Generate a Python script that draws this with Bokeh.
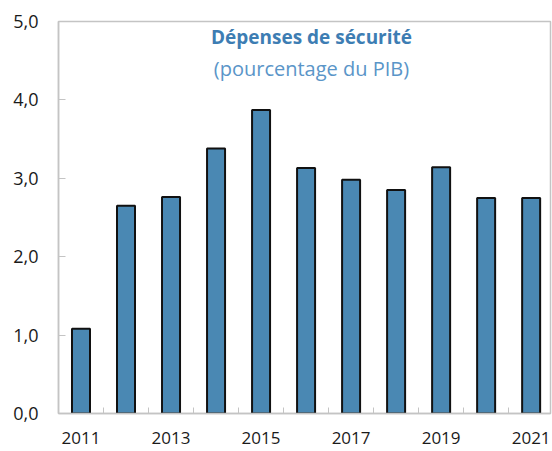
from bokeh.plotting import figure
from bokeh.models import FixedTicker, Label, ColumnDataSource, Range1d
from bokeh.embed import file_html
from bokeh.resources import INLINE

# ---- data ----
years = [2011, 2012, 2013, 2014, 2015, 2016, 2017, 2018, 2019, 2020, 2021]
values = [1.08, 2.65, 2.76, 3.38, 3.87, 3.13, 2.98, 2.85, 3.14, 2.75, 2.75]
x_tick_years = [2011, 2013, 2015, 2017, 2019, 2021]
y_ticks = [0, 1, 2, 3, 4, 5]
y_tick_labels = ["0,0", "1,0", "2,0", "3,0", "4,0", "5,0"]
title_text = "Dépenses de sécurité"
subtitle_text = "(pourcentage du PIB)"

FONT = "Open Sans"
AXIS_GREY = "#c4c4c4"

source = ColumnDataSource(data=dict(year=years, value=values))

p = figure(
    frame_width=492, frame_height=392,
    min_border_left=58, min_border_right=2, min_border_top=21, min_border_bottom=36,
    x_range=Range1d(2010.5, 2021.43), y_range=Range1d(0, 5),
    output_backend="svg", toolbar_location=None,
)
p.background_fill_color = "white"
p.border_fill_color = "white"
p.outline_line_color = AXIS_GREY
p.outline_line_width = 1.5
p.xgrid.grid_line_color = None
p.ygrid.grid_line_color = None

p.vbar(x="year", top="value", width=0.4, source=source,
       fill_color="#4a88b3", line_color="#111111", line_width=2)

# x axis
p.xaxis.ticker = FixedTicker(ticks=x_tick_years,
                             minor_ticks=[y + 0.5 for y in years[:-1]])
p.xaxis.major_tick_line_color = None
p.xaxis.minor_tick_line_color = AXIS_GREY
p.xaxis.minor_tick_in = 6
p.xaxis.minor_tick_out = 0
p.xaxis.axis_line_color = AXIS_GREY
p.xaxis.axis_line_width = 1.5
p.xaxis.major_label_text_font = FONT
p.xaxis.major_label_text_font_size = "17px"
p.xaxis.major_label_text_color = "#1a1a1a"
p.xaxis.major_label_standoff = 12

# y axis
p.yaxis.ticker = FixedTicker(ticks=y_ticks, minor_ticks=[])
p.yaxis.major_label_overrides = {t: l for t, l in zip(y_ticks, y_tick_labels)}
p.yaxis.major_tick_line_color = AXIS_GREY
p.yaxis.major_tick_in = 7
p.yaxis.major_tick_out = 0
p.yaxis.minor_tick_line_color = None
p.yaxis.axis_line_color = AXIS_GREY
p.yaxis.axis_line_width = 1.5
p.yaxis.major_label_text_font = FONT
p.yaxis.major_label_text_font_size = "18px"
p.yaxis.major_label_text_color = "#1a1a1a"
p.yaxis.major_label_standoff = 20

# in-chart title
p.add_layout(Label(x=2016.12, y=4.80, text=title_text, text_align="center",
                   text_baseline="alphabetic", text_font=FONT,
                   text_font_size="19px", text_font_style="bold",
                   text_color="#3d7db3"))
p.add_layout(Label(x=2016.12, y=4.40, text=subtitle_text, text_align="center",
                   text_baseline="alphabetic", text_font=FONT,
                   text_font_size="20px", text_color="#5a95c8"))

open("out.html", "w").write(file_html(p, INLINE))
